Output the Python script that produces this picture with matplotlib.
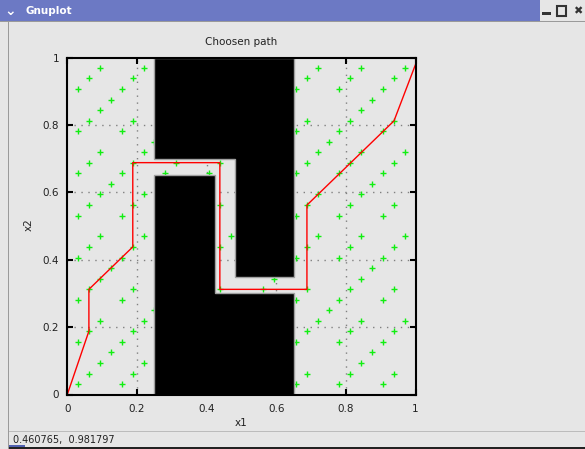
import matplotlib
matplotlib.use("Agg")
import matplotlib.pyplot as plt
from matplotlib.patches import Polygon, Rectangle

# sample points (rows of equal x2)
row_y = [0.969, 0.938, 0.906, 0.875, 0.844, 0.812, 0.781, 0.75, 0.719, 0.688,
         0.656, 0.625, 0.594, 0.562, 0.531, 0.469, 0.438, 0.406, 0.375, 0.344,
         0.312, 0.281, 0.25, 0.219, 0.188, 0.156, 0.125, 0.094, 0.062, 0.031]
row_x = [
    [0.094, 0.219, 0.719, 0.844, 0.969],
    [0.062, 0.188, 0.688, 0.812, 0.938],
    [0.031, 0.156, 0.656, 0.781, 0.906],
    [0.125, 0.875],
    [0.094, 0.844],
    [0.062, 0.188, 0.688, 0.812, 0.938],
    [0.031, 0.156, 0.656, 0.781, 0.906],
    [0.25, 0.75],
    [0.094, 0.219, 0.719, 0.844, 0.969],
    [0.062, 0.188, 0.312, 0.438, 0.688, 0.812, 0.938],
    [0.031, 0.156, 0.281, 0.406, 0.656, 0.781, 0.906],
    [0.125, 0.875],
    [0.094, 0.219, 0.719, 0.844],
    [0.062, 0.188, 0.438, 0.688, 0.812, 0.938],
    [0.031, 0.156, 0.656, 0.781, 0.906],
    [0.094, 0.219, 0.469, 0.719, 0.844, 0.969],
    [0.062, 0.188, 0.438, 0.688, 0.812, 0.938],
    [0.031, 0.156, 0.656, 0.781, 0.906],
    [0.125, 0.875],
    [0.094, 0.594, 0.844],
    [0.062, 0.188, 0.438, 0.562, 0.688, 0.812, 0.938],
    [0.031, 0.156, 0.656, 0.781, 0.906],
    [0.25, 0.75],
    [0.094, 0.219, 0.719, 0.844, 0.969],
    [0.062, 0.188, 0.688, 0.812, 0.938],
    [0.031, 0.156, 0.656, 0.781, 0.906],
    [0.125, 0.875],
    [0.094, 0.219, 0.844],
    [0.062, 0.188, 0.688, 0.812, 0.938],
    [0.031, 0.156, 0.656, 0.781, 0.906],
]

# chosen path
path_x = [0, 0.062, 0.062, 0.188, 0.188, 0.438, 0.438, 0.688, 0.688, 0.938, 1.0]
path_y = [0, 0.188, 0.312, 0.438, 0.688, 0.688, 0.312, 0.312, 0.562, 0.812, 0.98]

# obstacles
upper_obstacle = [(0.25, 1), (0.65, 1), (0.65, 0.35), (0.482, 0.35), (0.482, 0.7), (0.25, 0.7)]
lower_obstacle = [(0.25, 0), (0.65, 0), (0.65, 0.3), (0.425, 0.3), (0.425, 0.65), (0.25, 0.65)]

ticks = [0, 0.2, 0.4, 0.6, 0.8, 1]
tick_labels = ["0", "0.2", "0.4", "0.6", "0.8", "1"]

W, H = 585, 449
bg = "#e6e6e6"
fig = plt.figure(figsize=(W / 100, H / 100), dpi=100, facecolor=bg)

ax = fig.add_axes([67.3 / W, (H - 394.5) / H, 348.3 / W, 337 / H])
ax.set_facecolor(bg)
ax.set_xlim(0, 1)
ax.set_ylim(0, 1)

# grid
for v in ticks[1:-1]:
    ax.axvline(v, color="#808080", lw=1, ls=(0, (1, 4)), zorder=1)
    ax.axhline(v, color="#808080", lw=1, ls=(0, (1, 4)), zorder=1)

# sample points
pts_x = []
pts_y = []
for y, xs in zip(row_y, row_x):
    for x in xs:
        pts_x.append(x)
        pts_y.append(y)
ax.plot(pts_x, pts_y, "+", color="#11ee11", markersize=4.5, mew=1, zorder=2)

for poly in (upper_obstacle, lower_obstacle):
    ax.add_patch(Polygon(poly, closed=True, facecolor="black",
                         edgecolor="#a0a0a0", lw=1, zorder=3))

ax.plot(path_x, path_y, color="#ff0000", lw=1, zorder=4)

ax.set_xticks(ticks)
ax.set_yticks(ticks)
ax.set_xticklabels(tick_labels)
ax.set_yticklabels(tick_labels)
ax.tick_params(direction="in", length=4, width=1.5, top=True, right=True,
               labelsize=7.5, colors="black", labelcolor="#222222")
ax.tick_params(axis="x", pad=7)
ax.tick_params(axis="y", pad=6)
for s in ax.spines.values():
    s.set_linewidth(1.5)
    s.set_zorder(5)

fig.text(241 / W, 1 - 42 / H, "Choosen path", ha="center", va="center", fontsize=7.5, color="#222222")
fig.text(241 / W, 1 - 423 / H, "x1", ha="center", va="center", fontsize=7.5, color="#222222")
fig.text(29 / W, 1 - 225 / H, "x2", ha="center", va="center", rotation=90, fontsize=7.5, color="#222222")

# window chrome: title bar, border and status line
fig.patches.append(Rectangle((0, 1 - 21 / H), 540 / W, 21 / H, transform=fig.transFigure,
                             facecolor="#6c79c4", edgecolor="none"))
fig.patches.append(Rectangle((0, 1 - 22 / H), 1, 1 / H, transform=fig.transFigure,
                             facecolor="#9a9a9a", edgecolor="none"))
fig.text(25 / W, 1 - 11 / H, "Gnuplot", ha="left", va="center", fontsize=7.5,
         fontweight="bold", color="white")
fig.text(10 / W, 1 - 11 / H, "\u2304", ha="center", va="center", fontsize=10,
         fontweight="bold", color="white")
fig.patches.append(Rectangle((542 / W, 1 - 15 / H), 9 / W, 3 / H, transform=fig.transFigure,
                             facecolor="#333333", edgecolor="none"))
fig.patches.append(Rectangle((557 / W, 1 - 16 / H), 9 / W, 10 / H, transform=fig.transFigure,
                             facecolor="none", edgecolor="#333333", lw=1.5))
fig.text(578 / W, 1 - 11 / H, "\u2716", ha="center", va="center", fontsize=8, color="#333333")
fig.patches.append(Rectangle((8 / W, 0), 1 / W, 1 - 22 / H, transform=fig.transFigure,
                             facecolor="#9a9a9a", edgecolor="none"))
fig.patches.append(Rectangle((9 / W, 1 - 432 / H), 1, 1 / H, transform=fig.transFigure,
                             facecolor="#bcbcbc", edgecolor="none"))
fig.patches.append(Rectangle((9 / W, 0), 1, 2 / H, transform=fig.transFigure,
                             facecolor="#222222", edgecolor="none"))
fig.patches.append(Rectangle((9 / W, 2 / H), 16 / W, 2 / H, transform=fig.transFigure,
                             facecolor="#5060b0", edgecolor="none"))
fig.text(13 / W, 1 - 440 / H, "0.460765,  0.981797", ha="left", va="center",
         fontsize=7, color="#222222")

fig.savefig("out.png", dpi=100, facecolor=bg)
